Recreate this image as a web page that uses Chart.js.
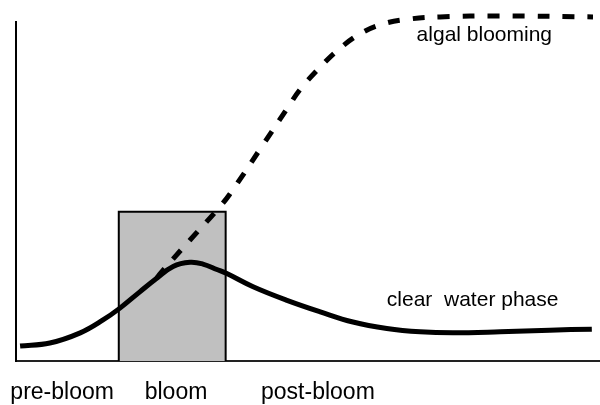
<!DOCTYPE html>
<html>
<head>
<meta charset="utf-8">
<script src="https://cdn.jsdelivr.net/npm/chart.js@4.4.0/dist/chart.umd.min.js"></script>
<style>
body { margin: 0; background: #fff; }
#wrap { width: 600px; height: 405px; }
</style>
</head>
<body>
<div id="wrap"><canvas id="bloomChart" width="600" height="405"></canvas></div>
<script>
// Phase labels under the x axis (time in arbitrary units 0-100)
const phaseLabels = ['pre-bloom', 'bloom', 'post-bloom'];
const phaseLabelX = [7.9, 27.4, 51.7];

// Bloom window (grey box)
const bloomStart = 17.6;
const bloomEnd = 35.9;
const bloomTop = 44;

// Clear water curve (solid)
const clearX = [0.7, 5.8, 11.0, 14.9, 17.8, 21.2, 24.1, 26.9, 29.8, 32.0, 34.4, 36.1, 40.6, 46.4, 52.1, 57.7, 63.5, 69.2, 74.8, 82.9, 91.4, 98.6];
const clearY = [4.4, 5.3, 8.3, 12.1, 15.6, 20.4, 24.4, 27.9, 29.1, 28.6, 27.0, 25.8, 21.9, 17.9, 14.5, 11.5, 9.6, 8.6, 8.3, 8.6, 9.1, 9.4];

// Algal blooming curve (dashed)
const algalX = [24.1, 24.8, 29.8, 34.4, 36.6, 41.8, 46.6, 48.6, 52.1, 55.1, 58.9, 62.8, 67.5, 72.6, 82.9, 98.8];
const algalY = [24.4, 26.0, 35.7, 44.5, 49.2, 62.5, 74.9, 80.0, 86.7, 91.7, 96.5, 99.4, 100.9, 101.5, 101.8, 101.5];

// Curve annotations
const noteTexts = ['algal blooming', 'clear  water phase'];
const noteX = [68.6, 63.5];
const noteY = [94.4, 16.2];

function toPoints(xs, ys) {
    return xs.map((v, i) => ({ x: v, y: ys[i] }));
}

// Draw the two curve names next to the lines
const curveNotes = {
    id: 'curveNotes',
    afterDatasetsDraw(chart) {
        const ctx = chart.ctx;
        const xs = chart.scales.x;
        const ys = chart.scales.y;
        ctx.save();
        ctx.font = '21px "Liberation Sans", Arial, sans-serif';
        ctx.fillStyle = '#000';
        ctx.textBaseline = 'alphabetic';
        ctx.textAlign = 'left';
        noteTexts.forEach((t, i) => {
            ctx.fillText(t, xs.getPixelForValue(noteX[i]), ys.getPixelForValue(noteY[i]));
        });
        ctx.restore();
    }
};

const ctx = document.getElementById('bloomChart').getContext('2d');
new Chart(ctx, {
    type: 'line',
    data: {
        datasets: [
            {
                label: 'bloom',
                data: toPoints([bloomStart, bloomStart, bloomEnd, bloomEnd], [0, bloomTop, bloomTop, 0]),
                borderColor: '#000',
                borderWidth: 2,
                backgroundColor: '#c0c0c0',
                fill: 'origin',
                tension: 0,
                pointRadius: 0,
                order: 3
            },
            {
                label: 'algal blooming',
                data: toPoints(algalX, algalY),
                borderColor: '#000',
                borderWidth: 5,
                borderDash: [12, 13],
                borderCapStyle: 'butt',
                tension: 0.4,
                fill: false,
                pointRadius: 0,
                clip: false,
                order: 2
            },
            {
                label: 'clear water phase',
                data: toPoints(clearX, clearY),
                borderColor: '#000',
                borderWidth: 5,
                borderCapStyle: 'butt',
                tension: 0.4,
                fill: false,
                pointRadius: 0,
                clip: false,
                order: 1
            }
        ]
    },
    options: {
        responsive: false,
        animation: false,
        layout: { padding: { left: 16, top: 22, right: 0, bottom: 0 } },
        plugins: {
            legend: { display: false },
            tooltip: { enabled: false }
        },
        scales: {
            x: {
                type: 'linear',
                min: 0,
                max: 100,
                grid: { display: false, drawTicks: false },
                border: { display: true, color: '#222', width: 2 },
                afterBuildTicks: (scale) => {
                    scale.ticks = phaseLabelX.map(v => ({ value: v }));
                },
                afterFit: (scale) => {
                    scale.height = 44;
                    // labels may hang past the axis ends; don't let that shift the plot
                    scale.paddingLeft = 0;
                    scale.paddingRight = 0;
                },
                ticks: {
                    autoSkip: false,
                    maxRotation: 0,
                    padding: 18,
                    color: '#000',
                    font: { family: '"Liberation Sans", Arial, sans-serif', size: 23 },
                    callback: (value, index) => phaseLabels[index]
                }
            },
            y: {
                min: 0,
                max: 100,
                grid: { display: false, drawTicks: false },
                border: { display: true, color: '#000', width: 2 },
                ticks: { display: false },
                afterFit: (scale) => {
                    scale.width = 0;
                    scale.paddingTop = 0;
                    scale.paddingBottom = 0;
                }
            }
        }
    },
    plugins: [curveNotes]
});
</script>
</body>
</html>
